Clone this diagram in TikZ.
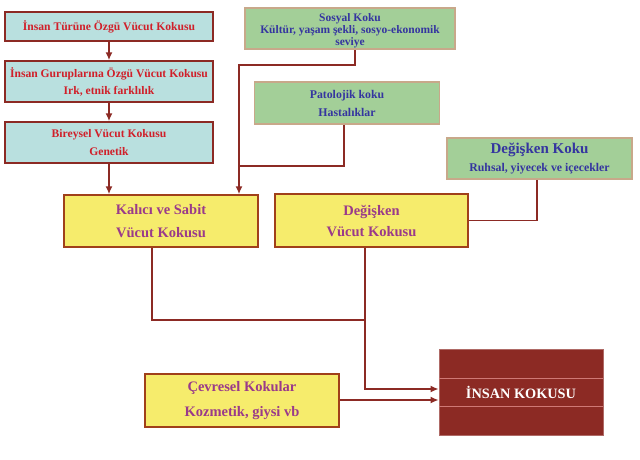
\documentclass[tikz,border=0pt]{standalone}
\usepackage{fontspec}
\setmainfont{Liberation Serif}
\usepackage{tikz}
\usetikzlibrary{arrows.meta,positioning}
\definecolor{tealfill}{HTML}{B9E0DF}
\definecolor{greenfill}{HTML}{A3CF98}
\definecolor{yellowfill}{HTML}{F6EC6C}
\definecolor{darkred}{HTML}{8C2A24}
\definecolor{redtext}{HTML}{D0202A}
\definecolor{bluetext}{HTML}{3535A0}
\definecolor{purpletext}{HTML}{9A3A8A}
\definecolor{tanline}{HTML}{C8A88A}
\definecolor{brownline}{HTML}{A0401A}
\tikzset{every node/.append style={transform shape=false, inner sep=0pt, align=center}}
\tikzset{tealbox/.style={draw=darkred, line width=1.5pt, fill=tealfill, text=redtext,
    font=\bfseries\fontsize{11.6}{17}\selectfont}}
\tikzset{greenbox/.style={draw=tanline, line width=1.5pt, fill=greenfill, text=bluetext,
    font=\bfseries\fontsize{11.8}{12.5}\selectfont}}
\tikzset{yellowbox/.style={draw=brownline, line width=1.5pt, fill=yellowfill, text=purpletext,
    font=\bfseries\fontsize{14.5}{23}\selectfont}}
\tikzset{conn/.style={draw=darkred, line width=1.5pt}}
\tikzset{arr/.style={conn, -{Latex[length=8pt,width=7pt]}}}
\begin{document}
\begin{tikzpicture}[x=1pt,y=-1pt]
  \useasboundingbox[fill=white] (0,0) rectangle (640,459);
  % left column
  \node[tealbox, minimum width=208pt, minimum height=29pt] (tur) at (109,26.5)
    {\.Insan Türüne Özgü Vücut Kokusu};
  \node[tealbox, minimum width=208pt, minimum height=41pt] (grup) at (109,81.5)
    {\.Insan Guruplarına Özgü Vücut Kokusu\\Irk, etnik farklılık};
  \node[tealbox, minimum width=208pt, minimum height=41pt] (bireysel) at (109,142.5)
    {Bireysel Vücut Kokusu\\[1pt]Genetik};
  % green boxes
  \node[greenbox, minimum width=210pt, minimum height=41pt, text height=35pt, text depth=1pt,
    font=\bfseries\fontsize{11.5}{12}\selectfont]
    (sosyal) at (350,28.5) {Sosyal Koku\\Kültür, yaşam şekli, sosyo-ekonomik\\seviye};
  \node[greenbox, minimum width=185pt, minimum height=42pt, font=\bfseries\fontsize{11.8}{18}\selectfont]
    (patolojik) at (347,103) {Patolojik koku\\Hastalıklar};
  \node[greenbox, minimum width=185pt, minimum height=41pt] (degkoku) at (539.5,158.5)
    {{\fontsize{15}{19}\selectfont Değişken Koku}\\[5pt]Ruhsal, yiyecek ve içecekler};
  % yellow boxes
  \node[yellowbox, minimum width=194pt, minimum height=52pt] (kalici) at (161,221)
    {Kalıcı ve Sabit\\Vücut Kokusu};
  \node[yellowbox, minimum width=193pt, minimum height=53pt, font=\bfseries\fontsize{14.5}{21}\selectfont]
    (degvucut) at (371.5,220.5) {Değişken\\Vücut Kokusu};
  \node[yellowbox, minimum width=194pt, minimum height=53pt, font=\bfseries\fontsize{14.5}{25}\selectfont]
    (cevre) at (242,400.5) {Çevresel Kokular\\Kozmetik, giysi vb};
  % result
  \node[draw=darkred!70!white, line width=0.8pt, fill=darkred, text=white, minimum width=164pt, minimum height=86pt,
    font=\bfseries\fontsize{14.3}{16}\selectfont] (insan) at (521,392) {\.INSAN KOKUSU};
  \foreach \y in {378,406}
  \draw[draw=red!30!darkred!60!white, line width=0.8pt] (insan.west |- 0,\y) -- (insan.east |- 0,\y);
  % connectors
  \draw[arr] (tur) -- (grup);
  \draw[arr] (grup) -- (bireysel);
  \draw[arr] (bireysel.south) -- (bireysel.south |- kalici.north);
  \coordinate (s1) at (239,65);
  \draw[arr] ([xshift=5pt]sosyal.south) |- (s1) -- (s1 |- kalici.north);
  \coordinate (p1) at (240,166);
  \draw[conn] ([xshift=-3pt]patolojik.south) |- (p1);
  \draw[conn] ([xshift=-2.5pt]degkoku.south) |- (degvucut.east);
  \coordinate (j1) at (365,320);
  \draw[conn] ([xshift=-9pt]kalici.south) |- (j1);
  \draw[arr] ([xshift=-6.5pt]degvucut.south) |- ([yshift=3pt]insan.west);
  \draw[arr] ([yshift=0.5pt]cevre.east) -- ([yshift=0.5pt]cevre.east -| insan.west);
\end{tikzpicture}
\end{document}
